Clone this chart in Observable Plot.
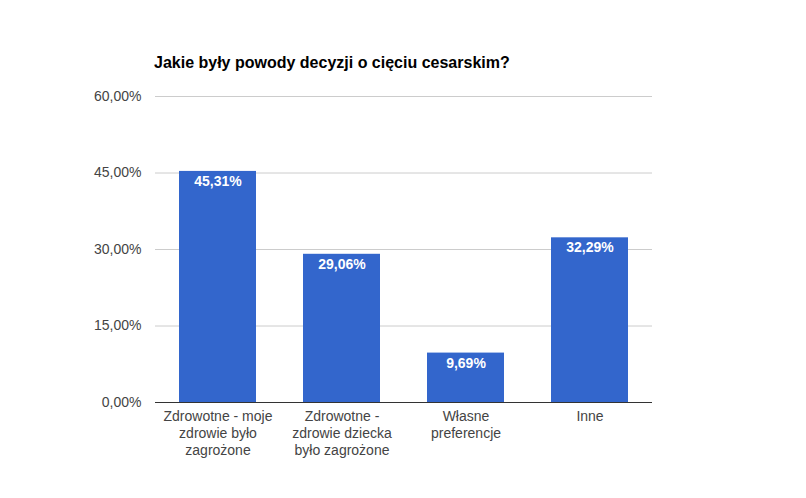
<!DOCTYPE html>
<html>
<head>
<meta charset="utf-8">
<script src="https://cdn.jsdelivr.net/npm/d3@7"></script>
<script src="https://cdn.jsdelivr.net/npm/@observablehq/plot@0.6"></script>
<style>
  body { margin: 0; background: #fff; }
  #wrap { position: relative; width: 806px; height: 498px; font-family: Arial, "Liberation Sans", sans-serif; }
  #title { position: absolute; left: 154px; top: 54px; font-size: 16px; font-weight: bold; color: #000; white-space: nowrap; }
</style>
</head>
<body>
<div id="wrap"><div id="title">Jakie były powody decyzji o cięciu cesarskim?</div></div>
<script>
const categories = [
  "Zdrowotne - moje\nzdrowie było\nzagrożone",
  "Zdrowotne -\nzdrowie dziecka\nbyło zagrożone",
  "Własne\npreferencje",
  "Inne"
];
const values = [45.31, 29.06, 9.69, 32.29];
const yTicks = [0, 15, 30, 45, 60];

const data = categories.map((c, i) => ({category: c, value: values[i]}));
const fmt = v => v.toFixed(2).replace(".", ",") + "%";

const chart = Plot.plot({
  width: 806,
  height: 498,
  marginLeft: 155,
  marginRight: 154,
  marginTop: 96,
  marginBottom: 96,
  style: {fontFamily: "Arial, 'Liberation Sans', sans-serif", fontSize: "14px", background: "transparent"},
  x: {domain: categories, paddingInner: 0.38, paddingOuter: 0.19, label: null},
  y: {domain: [0, 60], label: null},
  marks: [
    Plot.gridY(yTicks, {stroke: "#cccccc", strokeOpacity: 1}),
    Plot.barY(data, {x: "category", y: "value", fill: "#3366cc"}),
    Plot.ruleY([0], {stroke: "#333333"}),
    Plot.text(data, {x: "category", y: "value", text: d => fmt(d.value), fill: "white", fontWeight: "bold", fontSize: 14, dy: 10}),
    Plot.axisY(yTicks, {tickSize: 0, tickPadding: 14, tickFormat: fmt, fill: "#444444", fontSize: 14, label: null}),
    Plot.axisX({tickSize: 0, tickPadding: 6, fill: "#444444", fontSize: 14, lineHeight: 1.22, label: null, textAnchor: "middle"})
  ]
});
document.getElementById("wrap").appendChild(chart);
chart.style.position = "absolute";
chart.style.left = "0";
chart.style.top = "0";
</script>
</body>
</html>
